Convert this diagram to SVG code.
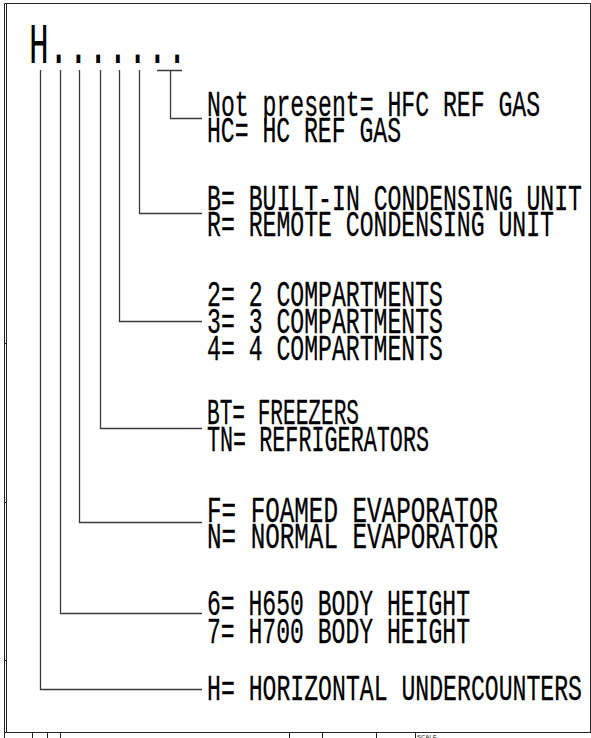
<svg xmlns="http://www.w3.org/2000/svg" width="591" height="738" viewBox="0 0 591 738">
<style>
.t{font-family:"Liberation Mono",monospace;font-size:36px;fill:#000;stroke:#000;stroke-width:0.3}
.h{font-family:"Liberation Mono",monospace;font-size:58px;fill:#000}
.c{fill:none;stroke:#3a3a3a;stroke-width:1.3}
.f{fill:none;stroke:#222;stroke-width:1}
.s{font-family:"Liberation Sans",sans-serif;font-size:6px;fill:#000}
</style>
<rect width="591" height="738" fill="#fff"/>
<g id="frame">
<path class="f" d="M4.5 3.5V738M6.5 3.5V732M4.5 3.5H590.5V732M4.5 732.5H591"/>
<path class="f" d="M4.5 343.5H6.5M4.5 502.5H6.5M4.5 660.5H6.5"/>
<path class="f" d="M32.5 732V738M47.5 732V738M60.5 732V738M289.5 732V738M322.5 732V738M376.5 732V738M415.5 732V738"/>
<text class="s" x="417" y="739">SCALE</text>
</g>
<g id="title"><text class="h" x="29" y="63" textLength="158" lengthAdjust="spacingAndGlyphs">H.......</text></g>
<g id="connectors">
<path class="c" d="M157 70.5H182M170.5 70V118.5H202"/>
<path class="c" d="M139.5 70V213.5H202"/>
<path class="c" d="M119.5 70V321.5H202"/>
<path class="c" d="M100.5 70V428.5H202"/>
<path class="c" d="M79.5 70V522.5H202"/>
<path class="c" d="M60.5 70V613.5H202"/>
<path class="c" d="M40.5 70V689.5H202"/>
</g>
<g id="gas">
<text class="t" x="207" y="116" textLength="333" lengthAdjust="spacingAndGlyphs">Not present= HFC REF GAS</text>
<text class="t" x="207" y="142" textLength="194" lengthAdjust="spacingAndGlyphs">HC= HC REF GAS</text>
</g>
<g id="condensing">
<text class="t" x="207" y="210" textLength="375" lengthAdjust="spacingAndGlyphs">B= BUILT-IN CONDENSING UNIT</text>
<text class="t" x="207" y="236" textLength="347" lengthAdjust="spacingAndGlyphs">R= REMOTE CONDENSING UNIT</text>
</g>
<g id="compartments">
<text class="t" x="207" y="306" textLength="236" lengthAdjust="spacingAndGlyphs">2= 2 COMPARTMENTS</text>
<text class="t" x="207" y="333" textLength="236" lengthAdjust="spacingAndGlyphs">3= 3 COMPARTMENTS</text>
<text class="t" x="207" y="360" textLength="236" lengthAdjust="spacingAndGlyphs">4= 4 COMPARTMENTS</text>
</g>
<g id="type">
<text class="t" x="207" y="424" textLength="152" lengthAdjust="spacingAndGlyphs">BT= FREEZERS</text>
<text class="t" x="207" y="451" textLength="222" lengthAdjust="spacingAndGlyphs">TN= REFRIGERATORS</text>
</g>
<g id="evaporator">
<text class="t" x="207" y="522" textLength="291" lengthAdjust="spacingAndGlyphs">F= FOAMED EVAPORATOR</text>
<text class="t" x="207" y="548" textLength="291" lengthAdjust="spacingAndGlyphs">N= NORMAL EVAPORATOR</text>
</g>
<g id="height">
<text class="t" x="207" y="615" textLength="263" lengthAdjust="spacingAndGlyphs">6= H650 BODY HEIGHT</text>
<text class="t" x="207" y="643" textLength="263" lengthAdjust="spacingAndGlyphs">7= H700 BODY HEIGHT</text>
</g>
<g id="horizontal">
<text class="t" x="207" y="700" textLength="375" lengthAdjust="spacingAndGlyphs">H= HORIZONTAL UNDERCOUNTERS</text>
</g>
</svg>
